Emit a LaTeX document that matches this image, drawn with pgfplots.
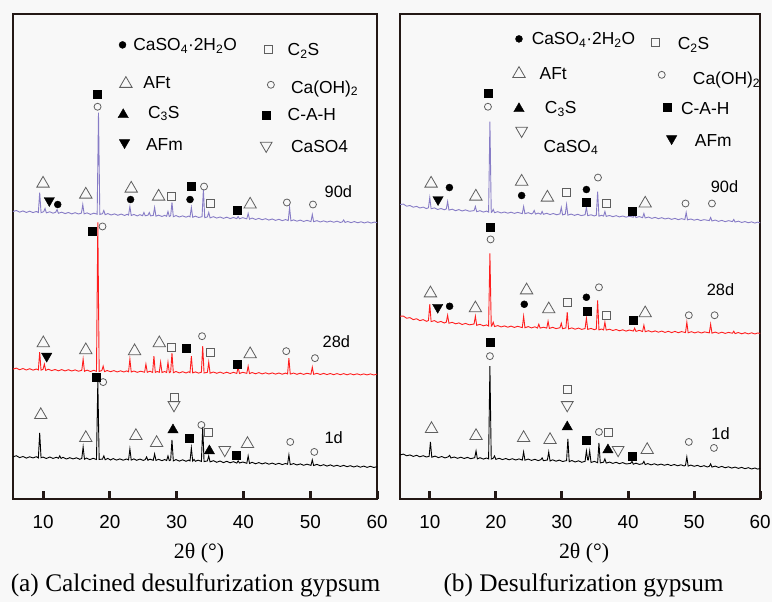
\documentclass[border=0pt]{standalone}
\usepackage{fontspec}
\setmainfont{Liberation Serif}
\setsansfont{Liberation Sans}
\usepackage{pgfplots}
\pgfplotsset{compat=1.18}
\definecolor{bgcol}{RGB}{248,248,248}
\definecolor{framecol}{RGB}{35,24,21}
\definecolor{purp}{RGB}{135,124,198}
\definecolor{redc}{RGB}{255,30,30}
\definecolor{mkgray}{RGB}{95,95,95}
\newcommand{\lfont}{\sffamily\fontsize{17.5}{18}\selectfont}
\newcommand{\dfont}{\sffamily\fontsize{16.5}{17}\selectfont}
\pgfplotsset{
  xrdaxis/.style={anchor=south west, scale only axis, height=486bp,
    xmin=5.5, xmax=60, ymin=0, ymax=486, ytick=\empty,
    xtick={10,20,30,40,50,60}, xtick pos=bottom, tick align=inside,
    major tick length=8bp, clip=false,
    axis line style={line width=1.8bp, draw=framecol},
    tick style={line width=3bp, draw=framecol},
    /pgf/number format/assume math mode=true,
    xticklabel style={font=\sffamily\fontsize{19}{19}\selectfont, anchor=base, yshift=-30bp, text=black},
    xlabel={2θ (°)},
    xlabel style={font=\rmfamily\fontsize{22}{22}\selectfont, at={(axis description cs:0.5,0)}, anchor=base, yshift=-60bp, xshift=4bp},
  },
  trace/.style={line width=0.9bp, no markers},
  otri/.style={only marks, mark=triangle, mark size=7.2bp, mark options={draw=mkgray, line width=0.8bp, fill=none}},
  otrid/.style={only marks, mark=triangle, mark size=6.8bp, mark options={draw=mkgray, line width=0.8bp, fill=bgcol, rotate=180}},
  ftri/.style={only marks, mark=triangle*, mark size=6bp, mark options={draw=black, fill=black}},
  ftrid/.style={only marks, mark=triangle*, mark size=6bp, mark options={draw=black, fill=black, rotate=180}},
  fcirc/.style={only marks, mark=*, mark size=3.5bp, mark options={draw=black, fill=black}},
  ocirc/.style={only marks, mark=o, mark size=3.5bp, mark options={draw=mkgray, line width=0.8bp}},
  fsq/.style={only marks, mark=square*, mark size=4bp, mark options={draw=black, fill=black}},
  osq/.style={only marks, mark=square, mark size=4bp, mark options={draw=mkgray, line width=0.8bp, fill=bgcol}},
}
\begin{document}
\begin{tikzpicture}
\path[fill=bgcol] (0,0) rectangle (774bp,603bp);
% ================= LEFT PANEL =================
\begin{axis}[xrdaxis, at={(13bp,103bp)}, width=365bp]
% 1d
\addplot[trace, black] coordinates {
(5.5,42)(6.0,43.2)(6.5,41.3)(7.0,42.4)(7.5,40.8)(8.0,42.1)(8.5,41.0)(9.0,42.2)(9.3,41.0)(9.5,66)(9.7,41.2)(10.0,41.8)(10.5,40.4)(11.0,41.9)(11.5,40.5)(12.0,41.6)(12.3,40.6)(12.5,43)(12.7,40.5)(13.0,41.6)(13.5,39.9)(14.0,41.2)(14.5,40.0)(15.0,41.1)(15.5,39.6)(15.8,40.5)(16.0,52)(16.2,39.7)(16.5,40.8)(17.0,39.3)(17.5,40.6)(18.0,39.4)(18.2,118)(18.4,39.5)(18.9,39.8)(19.1,43)(19.3,39.2)(19.7,40.5)(20.1,38.9)(20.5,40.3)(21.0,38.8)(21.5,40.0)(22.0,38.7)(22.5,39.9)(22.8,39.0)(23.0,50)(23.2,38.8)(23.6,40.0)(24.0,38.6)(24.5,39.8)(25.0,38.5)(25.3,39.3)(25.5,42)(25.7,38.6)(26.0,39.7)(26.5,38.6)(26.7,45)(26.9,38.5)(27.3,39.6)(27.8,38.2)(28.2,39.4)(28.5,38.4)(28.7,43)(28.9,38.3)(29.1,38.9)(29.3,59)(29.5,38.0)(29.9,39.3)(30.4,37.8)(30.9,39.1)(31.4,37.6)(31.8,38.8)(32.0,38.0)(32.2,51)(32.4,37.8)(32.6,39.5)(32.8,37.6)(33.2,38.7)(33.7,37.5)(33.9,72)(34.1,37.3)(34.6,38.0)(34.8,43)(35.0,37.0)(35.5,38.2)(36.0,36.6)(36.5,37.9)(37.0,36.3)(37.5,37.6)(38.0,36.1)(38.5,37.2)(39.0,35.8)(39.2,38)(39.4,35.9)(39.9,36.9)(40.5,35.6)(40.7,43)(40.9,35.4)(41.3,36.6)(41.8,35.1)(42.3,36.3)(42.8,35.0)(43.3,36.1)(43.8,34.7)(44.3,35.8)(44.8,34.5)(45.3,35.6)(45.8,34.3)(46.3,35.4)(46.6,34.6)(46.8,44)(47.0,34.2)(47.5,35.3)(48.0,33.9)(48.5,35.0)(49.0,33.6)(49.5,34.7)(50.1,33.5)(50.3,39)(50.5,33.4)(51.0,34.5)(51.5,33.1)(52.0,34.2)(52.5,32.8)(53.0,34.0)(53.5,32.6)(54.0,33.6)(54.5,32.4)(55.0,33.5)(55.5,32.2)(56.0,33.2)(56.5,31.9)(57.0,33.0)(57.5,31.7)(58.0,32.8)(58.5,31.5)(59.0,32.6)(59.5,31.4)(60.0,32.2)};
% 28d
\addplot[trace, redc] coordinates {
(5.5,130)(6.0,131.0)(6.5,129.4)(7.0,130.6)(7.5,129.1)(8.0,130.4)(8.5,129.0)(9.0,130.1)(9.3,129.2)(9.5,147)(9.7,129.0)(10.0,129.8)(10.2,135)(10.4,128.7)(10.8,129.9)(11.3,128.5)(11.8,129.6)(12.3,128.3)(12.8,129.5)(13.3,128.2)(13.8,129.4)(14.3,128.1)(14.8,129.2)(15.3,127.9)(15.8,128.8)(16.0,140)(16.2,127.8)(16.6,129.0)(17.1,127.6)(17.6,128.8)(18.0,127.8)(18.2,277)(18.4,127.7)(18.8,128.6)(19.0,133)(19.2,127.5)(19.6,128.6)(20.1,127.4)(20.6,128.5)(21.1,127.2)(21.6,128.3)(22.1,127.1)(22.5,128.2)(22.8,127.3)(23.0,140)(23.2,127.1)(23.6,128.1)(24.1,126.8)(24.6,127.9)(25.2,126.9)(25.4,135)(25.6,126.8)(26.0,127.9)(26.4,126.7)(26.6,143)(26.8,126.7)(27.1,127.6)(27.4,126.8)(27.6,137)(27.8,126.6)(28.2,127.6)(28.5,126.6)(28.7,137)(28.9,126.5)(29.1,127.2)(29.3,146)(29.5,126.4)(29.9,127.6)(30.4,126.2)(30.9,127.4)(31.4,126.1)(31.8,127.3)(32.0,126.5)(32.2,143)(32.4,126.2)(32.8,127.2)(33.3,126.0)(33.7,126.9)(33.9,153)(34.1,126.1)(34.6,126.8)(34.8,137)(35.0,125.9)(35.5,127.1)(36.0,125.8)(36.5,127.0)(37.0,125.7)(37.5,126.9)(38.0,125.6)(38.5,126.8)(39.0,125.7)(39.2,132)(39.4,125.6)(39.9,126.8)(40.5,125.8)(40.7,133)(40.9,125.5)(41.3,126.6)(41.8,125.3)(42.3,126.5)(42.8,125.2)(43.3,126.3)(43.8,125.1)(44.3,126.2)(44.8,125.0)(45.3,126.1)(45.8,124.9)(46.3,126.0)(46.6,125.2)(46.8,141)(47.0,125.0)(47.5,126.0)(48.0,124.8)(48.5,125.9)(49.0,124.7)(49.5,125.8)(50.1,124.9)(50.3,132)(50.5,124.8)(51.0,125.8)(51.5,124.6)(52.0,125.7)(52.5,124.5)(53.0,125.6)(53.5,124.4)(54.0,125.5)(54.5,124.4)(55.0,125.5)(55.5,124.3)(56.0,125.4)(56.5,124.3)(57.0,125.3)(57.5,124.2)(58.0,125.2)(58.5,124.2)(59.0,125.2)(59.5,124.1)(60.0,125.0)};
% 90d
\addplot[trace, purp] coordinates {
(5.5,288)(6.0,289.0)(6.5,287.3)(7.0,288.6)(7.5,287.0)(8.0,288.3)(8.5,286.9)(9.0,288.0)(9.3,287.0)(9.5,307)(9.7,286.8)(10.1,287.8)(10.3,291)(10.5,286.6)(11.0,287.7)(11.5,286.3)(11.9,287.3)(12.1,290)(12.3,286.2)(12.8,287.3)(13.3,285.9)(13.8,287.0)(14.3,285.6)(14.8,286.8)(15.3,285.5)(15.75,286.4)(15.95,295)(16.15,285.6)(16.6,286.6)(17.1,285.1)(17.6,286.3)(18.1,285.3)(18.3,387)(18.5,285.0)(18.9,285.8)(19.1,289)(19.3,284.8)(19.7,285.9)(20.2,284.5)(20.7,285.6)(21.2,284.2)(21.7,285.4)(22.2,284.0)(22.6,285.2)(22.8,284.4)(23.0,293)(23.2,284.0)(23.6,285.0)(24.1,283.6)(24.5,284.8)(24.9,283.8)(25.1,287)(25.3,283.7)(25.7,284.3)(25.9,287)(26.1,283.6)(26.5,284.1)(26.7,292)(26.9,283.3)(27.3,284.3)(27.8,283.0)(28.2,284.1)(28.5,283.2)(28.7,288)(28.9,283.0)(29.1,283.8)(29.3,297)(29.5,282.8)(29.9,283.9)(30.4,282.5)(30.9,283.6)(31.4,282.3)(31.8,283.4)(32.0,282.6)(32.2,292)(32.4,282.2)(32.8,283.3)(33.3,282.0)(33.8,282.8)(34.0,310)(34.2,281.8)(34.6,282.6)(34.8,287)(35.0,281.6)(35.5,282.8)(36.0,281.4)(36.5,282.5)(37.0,281.1)(37.5,282.3)(38.0,280.9)(38.5,282.0)(39.0,280.8)(39.2,283)(39.4,280.7)(39.9,281.8)(40.5,280.6)(40.7,286)(40.9,280.3)(41.3,281.4)(41.8,280.0)(42.3,281.1)(42.8,279.7)(43.3,280.8)(43.8,279.4)(44.3,280.5)(44.8,279.1)(45.3,280.2)(45.8,278.8)(46.3,279.9)(46.7,278.9)(46.9,292)(47.1,278.6)(47.5,279.6)(48.0,278.3)(48.5,279.4)(49.0,278.0)(49.5,279.1)(50.1,277.9)(50.3,285)(50.5,277.8)(51.0,278.8)(51.5,277.5)(52.0,278.6)(52.5,277.4)(53.0,278.4)(53.5,277.2)(54.0,278.3)(54.5,277.0)(54.8,277.6)(55.0,279.5)(55.2,277.0)(55.6,278.0)(56.1,276.8)(56.6,277.9)(57.1,276.7)(57.6,277.7)(58.1,276.5)(58.6,277.6)(59.1,276.4)(59.6,277.4)(60.0,276.8)};
% markers
\addplot[otri] coordinates {(10.0,316)(16.4,305)(23.2,311)(27.3,303)(41.0,295)(10.04,156)(16.4,149)(23.7,148)(27.4,156)(41.0,145)(9.66,84)(16.4,61)(23.9,63)(27.0,56)(40.6,55)(22.4,416)};
\addplot[ftrid] coordinates {(10.94,299)(10.55,143)(22.2,357)};
\addplot[fcirc] coordinates {(12.2,295)(23.1,300)(32.0,300)(21.9,455)};
\addplot[ocirc] coordinates {(18.16,393)(34.1,313)(46.5,297)(50.4,295)(18.9,273)(33.8,163)(46.4,148)(50.7,141)(19.0,117)(33.7,74)(47.0,57)(50.6,47)(44.1,415)};
\addplot[fsq] coordinates {(18.16,406)(32.2,313)(39.06,289)(17.4,268)(31.5,151)(39.1,135)(17.9,122)(31.9,61)(38.9,44)(43.4,385)};
\addplot[osq] coordinates {(29.25,303)(35.1,296)(29.25,152)(35.1,147)(29.7,102)(34.7,67)(43.8,450)};
\addplot[ftri] coordinates {(29.45,69)(34.9,48)(22.0,385)};
\addplot[otrid] coordinates {(29.6,94)(37.2,49)(43.4,354)};
% legend texts
\node[anchor=base west, font=\lfont] at (axis cs:23.0,449) {CaSO\textsubscript{4}·2H\textsubscript{2}O};
\node[anchor=base west, font=\lfont] at (axis cs:24.5,411.7) {AFt};
\node[anchor=base west, font=\lfont] at (axis cs:25.2,381.7) {C\textsubscript{3}S};
\node[anchor=base west, font=\lfont] at (axis cs:24.9,349.3) {AFm};
\node[anchor=base west, font=\lfont] at (axis cs:46.1,444) {C\textsubscript{2}S};
\node[anchor=base west, font=\lfont] at (axis cs:46.6,406.7) {Ca(OH)\textsubscript{2}};
\node[anchor=base west, font=\lfont] at (axis cs:46.1,379.3) {C-A-H};
\node[anchor=base west, font=\lfont] at (axis cs:46.6,347.3) {CaSO4};
\node[anchor=base, font=\dfont] at (axis cs:54.2,301.7) {90d};
\node[anchor=base, font=\dfont] at (axis cs:53.9,151.7) {28d};
\node[anchor=base, font=\dfont] at (axis cs:53.5,55) {1d};
\end{axis}
% ================= RIGHT PANEL =================
\begin{axis}[xrdaxis, at={(401bp,103bp)}, width=361bp]
% 1d
\addplot[trace, black] coordinates {
(5.5,44)(6.0,44.8)(6.5,43.1)(7.0,44.0)(7.5,42.5)(8.0,43.6)(8.5,42.1)(9.0,43.2)(9.5,41.9)(9.9,42.6)(10.1,57)(10.3,41.7)(10.8,42.8)(11.3,41.3)(11.8,42.4)(12.3,41.0)(12.8,42.1)(13.0,43.5)(13.2,40.9)(13.7,41.9)(14.2,40.6)(14.7,41.7)(15.2,40.4)(15.7,41.5)(16.2,40.2)(16.8,41.2)(17.0,48)(17.2,40.0)(17.6,41.2)(18.1,39.8)(18.6,40.9)(18.9,40.0)(19.1,133)(19.3,39.8)(19.6,40.7)(19.8,43)(20.0,39.5)(20.5,40.6)(21.0,39.3)(21.5,40.4)(22.0,39.1)(22.5,40.2)(23.0,38.9)(23.5,40.0)(24.0,38.8)(24.2,47)(24.4,38.7)(24.9,39.8)(25.4,38.5)(25.9,39.6)(26.4,38.3)(26.8,39.2)(27.0,41)(27.2,38.2)(27.8,38.9)(28.0,47)(28.2,37.9)(28.6,39.1)(29.1,37.7)(29.6,38.8)(30.1,37.4)(30.7,38.3)(30.9,60)(31.1,37.2)(31.5,38.4)(32.0,36.9)(32.5,38.1)(33.0,36.6)(33.5,37.6)(33.7,48)(33.9,39)(34.0,39)(34.2,48)(34.4,36.4)(34.9,37.5)(35.4,36.2)(35.6,56)(35.8,36.0)(36.3,36.7)(36.5,40)(36.7,35.8)(37.2,36.8)(37.7,35.5)(38.2,36.6)(38.7,35.2)(39.2,36.3)(39.7,34.9)(40.4,35.5)(40.6,37.5)(40.8,34.7)(41.2,35.7)(41.7,34.5)(42.2,35.2)(42.4,37.5)(42.6,34.3)(43.0,35.3)(43.5,34.0)(44.0,35.1)(44.5,33.8)(45.0,34.8)(45.5,33.6)(46.0,34.6)(46.5,33.3)(47.0,34.4)(47.5,33.1)(48.0,34.1)(48.5,32.9)(48.7,33.6)(48.9,42)(49.1,32.8)(49.5,33.8)(50.0,32.6)(50.5,33.5)(51.0,32.2)(51.5,33.2)(52.0,31.9)(52.3,32.6)(52.5,35)(52.7,31.8)(53.2,32.8)(53.7,31.4)(54.2,32.5)(54.7,31.1)(55.2,32.1)(55.7,30.8)(56.2,31.8)(56.7,30.5)(57.2,31.5)(57.7,30.2)(58.2,31.2)(58.7,29.9)(59.2,30.9)(59.6,29.8)(60.0,30.4)};
% 28d
\addplot[trace, redc] coordinates {
(5.5,183)(6.0,183.2)(6.5,181.0)(7.0,181.6)(7.5,179.6)(8.0,180.5)(8.5,178.6)(9.0,179.6)(9.5,177.9)(9.8,178.7)(10.0,195)(10.2,177.7)(10.7,178.6)(11.2,176.8)(11.7,177.8)(12.2,176.2)(12.5,177.1)(12.7,184)(12.9,176.0)(13.4,176.9)(13.9,175.4)(14.4,176.3)(14.9,174.7)(15.4,175.8)(16.0,174.4)(16.7,175.2)(16.9,183)(17.1,173.9)(17.6,174.9)(18.1,173.4)(18.6,174.3)(18.9,173.2)(19.1,246)(19.3,173.0)(19.4,173.4)(19.6,177)(19.8,172.7)(20.3,173.6)(20.8,172.3)(21.3,173.3)(21.8,172.0)(22.3,173.1)(22.8,171.8)(23.3,172.9)(24.0,171.6)(24.2,183)(24.4,171.5)(24.9,172.6)(25.4,171.3)(25.9,172.4)(26.3,171.2)(26.5,175)(26.7,171.1)(27.2,172.0)(27.7,171.1)(27.9,178)(28.1,170.8)(28.6,171.9)(29.1,170.6)(29.7,171.5)(29.9,176)(30.1,170.5)(30.6,171.3)(30.8,187)(31.0,170.3)(31.5,171.3)(32.0,170.0)(32.5,171.1)(33.0,169.8)(33.5,170.7)(33.7,181)(33.9,169.8)(34.4,170.8)(34.9,169.5)(35.2,170.3)(35.4,199)(35.6,169.3)(36.0,170.2)(36.3,169.3)(36.5,177)(36.7,169.1)(37.2,170.0)(37.7,168.7)(38.2,169.7)(38.7,168.4)(39.2,169.4)(39.7,168.1)(40.2,169.2)(40.8,168.2)(41.0,171)(41.2,167.8)(41.7,168.9)(42.2,167.7)(42.4,174)(42.6,167.5)(43.1,168.5)(43.6,167.2)(44.1,168.3)(44.6,167.0)(45.1,168.1)(45.6,166.8)(46.1,167.9)(46.6,166.6)(47.1,167.8)(47.6,166.5)(48.1,167.6)(48.7,166.6)(48.9,177)(49.1,166.4)(49.6,167.5)(50.1,166.3)(50.6,167.4)(51.1,166.2)(51.6,167.3)(52.3,166.3)(52.5,175)(52.7,166.0)(53.2,167.1)(53.7,165.9)(54.2,167.0)(54.7,165.8)(55.2,166.8)(55.8,166.0)(56.0,168)(56.2,165.6)(56.7,166.7)(57.2,165.4)(57.7,166.5)(58.2,165.3)(58.7,166.4)(59.2,165.2)(59.6,166.2)(60.0,165.8)};
% 90d
\addplot[trace, purp] coordinates {
(5.5,295)(6.0,295.4)(6.5,293.3)(7.0,294.0)(7.5,292.3)(8.0,293.1)(8.5,291.5)(9.0,292.4)(9.5,290.9)(9.8,291.8)(10.0,302)(10.2,290.8)(10.7,291.6)(11.2,290.0)(11.7,291.0)(12.2,289.7)(12.5,290.6)(12.7,298)(12.9,289.4)(13.4,290.3)(13.9,288.8)(14.4,289.9)(14.9,288.5)(15.4,289.6)(16.0,288.2)(16.7,288.9)(16.9,293)(17.1,287.8)(17.6,288.8)(18.1,287.4)(18.6,288.4)(18.9,287.4)(19.1,378)(19.3,287.1)(19.4,287.5)(19.6,290)(19.8,286.8)(20.3,287.8)(20.8,286.5)(21.3,287.5)(21.8,286.3)(22.3,287.3)(22.8,286.1)(23.3,287.1)(24.0,285.9)(24.2,293)(24.4,285.8)(24.9,286.8)(25.4,285.6)(25.6,286.4)(25.8,289)(26.0,285.4)(26.4,286.4)(26.8,285.3)(27.0,288)(27.2,285.2)(27.7,286.2)(28.2,284.9)(28.7,286.0)(29.2,284.7)(29.7,285.6)(29.9,292)(30.1,284.6)(30.5,285.3)(30.7,295)(30.9,284.4)(31.4,285.4)(31.9,284.1)(32.4,285.2)(32.9,283.9)(33.5,284.7)(33.7,292)(33.9,283.8)(34.4,284.7)(34.9,283.5)(35.2,284.3)(35.4,308)(35.6,283.3)(36.0,284.2)(36.3,283.4)(36.5,288)(36.7,283.1)(37.2,284.0)(37.7,282.8)(38.2,283.8)(38.7,282.6)(39.2,283.5)(39.7,282.3)(40.2,283.2)(40.8,282.3)(41.0,285)(41.2,281.9)(41.7,282.9)(42.2,281.8)(42.4,286)(42.6,281.5)(43.1,282.4)(43.6,281.1)(44.1,282.1)(44.6,280.8)(45.1,281.8)(45.6,280.5)(46.1,281.4)(46.6,280.1)(47.1,281.1)(47.6,279.8)(48.1,280.8)(48.6,279.9)(48.8,287)(49.0,279.6)(49.5,280.5)(50.0,279.3)(50.5,280.2)(51.0,278.9)(51.5,279.8)(52.3,278.9)(52.5,282)(52.7,278.5)(53.2,279.4)(53.7,278.1)(54.2,279.1)(54.7,277.8)(55.2,278.8)(55.8,277.9)(56.0,280)(56.2,277.4)(56.7,278.3)(57.2,277.0)(57.7,277.9)(58.2,276.7)(58.7,277.6)(59.2,276.4)(59.6,277.3)(60.0,276.6)};
% markers
\addplot[otri] coordinates {(10.2,316)(16.97,303)(23.9,318)(27.8,302)(42.6,296)(10.1,206)(16.9,191)(24.65,209)(28.0,190)(42.6,186)(10.26,70)(17.0,63)(24.2,61)(28.2,59)(42.9,49)(23.5,426)};
\addplot[ftrid] coordinates {(11.25,300)(11.2,192)(46.6,361)};
\addplot[fcirc] coordinates {(12.97,312)(23.9,304)(33.7,310)(13.0,193)(24.3,195)(33.7,202)(23.5,461)};
\addplot[ocirc] coordinates {(18.8,393)(35.45,322)(48.7,296)(52.7,296)(19.2,260)(35.6,212)(49.2,184)(53.1,184)(19.1,143)(35.6,67)(49.2,57)(53.0,51)(45.1,425)};
\addplot[fsq] coordinates {(18.8,407)(33.7,297)(40.6,288)(19.14,272)(33.8,188)(40.8,179)(19.2,157)(33.7,59)(40.6,43)(45.9,393)};
\addplot[osq] coordinates {(30.6,307)(36.8,296)(30.8,197)(36.7,184)(30.8,110)(37.1,67)(44.2,457)};
\addplot[ftri] coordinates {(30.8,72)(36.96,49)(23.5,391)};
\addplot[otrid] coordinates {(30.8,94)(38.5,49)(23.9,369)};
% legend texts
\node[anchor=base west, font=\lfont] at (axis cs:24.9,455) {CaSO\textsubscript{4}·2H\textsubscript{2}O};
\node[anchor=base west, font=\lfont] at (axis cs:26.1,420) {AFt};
\node[anchor=base west, font=\lfont] at (axis cs:26.9,386) {C\textsubscript{3}S};
\node[anchor=base west, font=\lfont] at (axis cs:26.7,347.3) {CaSO\textsubscript{4}};
\node[anchor=base west, font=\lfont] at (axis cs:47.0,450) {C\textsubscript{2}S};
\node[anchor=base west, font=\lfont] at (axis cs:49.3,415) {Ca(OH)\textsubscript{2}};
\node[anchor=base west, font=\lfont] at (axis cs:47.5,385) {C-A-H};
\node[anchor=base west, font=\lfont] at (axis cs:49.6,353.3) {AFm};
\node[anchor=base, font=\dfont] at (axis cs:54.6,306.7) {90d};
\node[anchor=base, font=\dfont] at (axis cs:54.0,204) {28d};
\node[anchor=base, font=\dfont] at (axis cs:54.0,59) {1d};
\end{axis}
% captions
\node[anchor=base, font=\rmfamily\fontsize{25.5}{26}\selectfont] at (196bp,10bp) {(a) Calcined desulfurization gypsum};
\node[anchor=base, font=\rmfamily\fontsize{25.5}{26}\selectfont] at (585bp,10bp) {(b) Desulfurization gypsum};
\end{tikzpicture}
\end{document}
